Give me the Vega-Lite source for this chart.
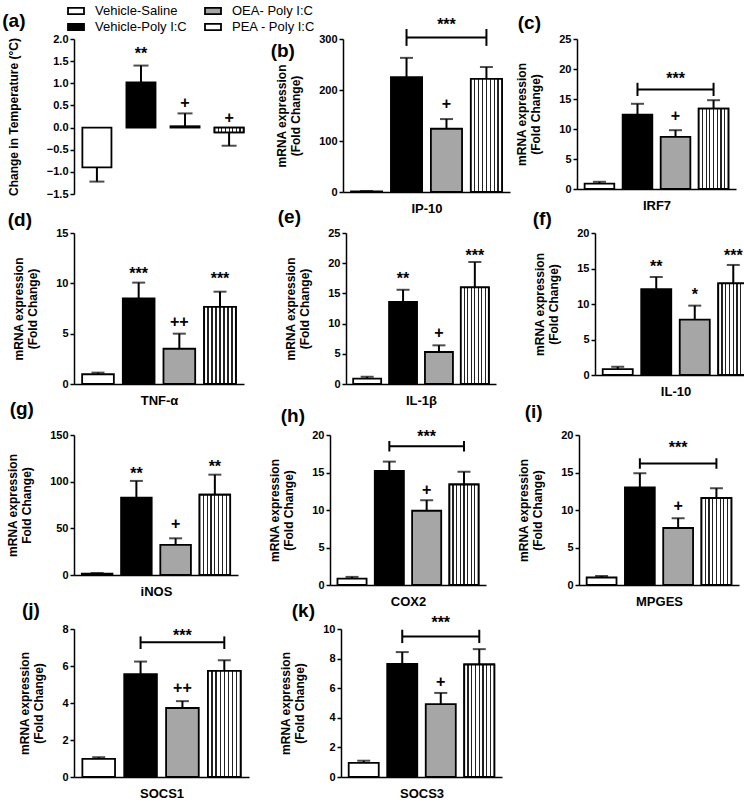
{
"$schema":"https://vega.github.io/schema/vega-lite/v6.json",
"padding":{"left":2,"top":2,"right":2,"bottom":2},
"background":"white",
"config":{
 "view":{"stroke":null},
 "font":"Liberation Sans",
 "axis":{"domainColor":"black","domainWidth":1.5,"tickColor":"black","tickWidth":1.5,"tickSize":4,"labelFont":"Liberation Sans","labelFontSize":11,"labelFontWeight":"bold","labelColor":"black","labelPadding":2,"labelOverlap":false,"titleFont":"Liberation Sans","titleFontSize":12,"titleFontWeight":"bold","titleColor":"black","titleLineHeight":14,"grid":false,"titlePadding":16},
 "axisY":{"labelOverlap":false,"tickCount":20},
 "title":{"font":"Liberation Sans","fontSize":19,"fontWeight":"bold","color":"black","anchor":"start","frame":"bounds","baseline":"middle","offset":0}
},
"spacing":-7,
"vconcat":[
{"spacing":18,"hconcat":[
{"width":178,"height":155,"title":{"text":"(a)","dy":2,"dx":-5},
 "encoding":{"x":{"field":"group","type":"nominal","sort":null,"scale":{"domain":["Vehicle-Saline","Vehicle-Poly I:C","OEA- Poly I:C","PEA - Poly I:C"],"paddingInner":0.34,"paddingOuter":0.19},"axis":null}},
 "data":{"values":[
  {"group":"Vehicle-Saline","mean":-0.9,"err":-1.22,"sig":"","sy":null},
  {"group":"Vehicle-Poly I:C","mean":1.02,"err":1.4,"sig":"**","sy":1.67},
  {"group":"OEA- Poly I:C","mean":0.03,"err":0.32,"sig":"+","sy":0.55},
  {"group":"PEA - Poly I:C","mean":-0.11,"err":-0.41,"sig":"+","sy":0.21}]},
 "layer":[
  {"mark":{"type":"rule","strokeWidth":2,"color":"black"},"encoding":{"y":{"field":"mean","type":"quantitative"},"y2":{"field":"err"}}},
  {"mark":{"type":"tick","thickness":2,"size":15,"color":"black"},"encoding":{"y":{"field":"err","type":"quantitative"}}},
  {"mark":{"type":"bar","stroke":"black","strokeWidth":1.8},"encoding":{"y":{"field":"mean","type":"quantitative","scale":{"domain":[-1.5,2],"nice":false,"zero":false},"axis":{"values":[-1.5,-1,-0.5,0,0.5,1,1.5,2],"tickCount":20,"format":".1f","labelOverlap":false,"titlePadding":26,"title":"Change in Temperature (°C)"}},
   "fill":{"field":"group","type":"nominal","scale":{"domain":["Vehicle-Saline","Vehicle-Poly I:C","OEA- Poly I:C","PEA - Poly I:C"],"range":["white","black","#a6a6a6","white"]},
    "legend":{"orient":"none","legendX":-7,"legendY":-37,"title":null,"columns":2,"columnPadding":14,"rowPadding":-2,"symbolType":"M-1,-0.38H1V0.38H-1Z","symbolSize":256,"symbolStrokeColor":"black","symbolStrokeWidth":1.8,"labelFont":"Liberation Sans","labelFontSize":13,"labelColor":"black","labelOffset":10,"labelLimit":300}}}},
  {"transform":[{"filter":"datum.group === 'PEA - Poly I:C'"}],"mark":{"type":"bar","stroke":"black","strokeWidth":1.8,"fill":{"gradient":"linear","x1":0,"y1":0,"x2":1,"y2":0,"stops":[{"offset":0,"color":"white"},{"offset":0.105,"color":"white"},{"offset":0.105,"color":"#222"},{"offset":0.145,"color":"#222"},{"offset":0.145,"color":"white"},{"offset":0.23,"color":"white"},{"offset":0.23,"color":"#222"},{"offset":0.27,"color":"#222"},{"offset":0.27,"color":"white"},{"offset":0.355,"color":"white"},{"offset":0.355,"color":"#222"},{"offset":0.395,"color":"#222"},{"offset":0.395,"color":"white"},{"offset":0.48,"color":"white"},{"offset":0.48,"color":"#222"},{"offset":0.52,"color":"#222"},{"offset":0.52,"color":"white"},{"offset":0.605,"color":"white"},{"offset":0.605,"color":"#222"},{"offset":0.645,"color":"#222"},{"offset":0.645,"color":"white"},{"offset":0.73,"color":"white"},{"offset":0.73,"color":"#222"},{"offset":0.77,"color":"#222"},{"offset":0.77,"color":"white"},{"offset":0.855,"color":"white"},{"offset":0.855,"color":"#222"},{"offset":0.895,"color":"#222"},{"offset":0.895,"color":"white"},{"offset":1,"color":"white"}]}},"encoding":{"y":{"field":"mean","type":"quantitative"}}},
  {"mark":{"type":"rule","strokeWidth":2,"color":"black"},"encoding":{"y":{"datum":0,"type":"quantitative"}}},
  {"mark":{"type":"text","fontSize":16,"fontWeight":"bold","baseline":"middle","color":"black"},"encoding":{"y":{"field":"sy","type":"quantitative"},"text":{"field":"sig"}}}
 ]},
{"spacing":5,"hconcat":[
{"width":167,"height":153,"title":{"text":"(b)","dy":48,"dx":-5},
 "encoding":{"x":{"field":"group","type":"nominal","sort":null,"scale":{"domain":["Vehicle-Saline","Vehicle-Poly I:C","OEA- Poly I:C","PEA - Poly I:C"],"paddingInner":0.22,"paddingOuter":0.2},"axis":{"title":"IP-10","labels":false,"ticks":false,"titlePadding":10,"titleFontSize":13}}},
 "layer":[
  {"data":{"values":[
   {"group":"Vehicle-Saline","mean":1,"upper":2,"sig":"","sy":null},
   {"group":"Vehicle-Poly I:C","mean":225,"upper":263,"sig":"","sy":null},
   {"group":"OEA- Poly I:C","mean":124,"upper":143,"sig":"+","sy":172},
   {"group":"PEA - Poly I:C","mean":222,"upper":245,"sig":"","sy":null}]},
   "layer":[
    {"mark":{"type":"rule","strokeWidth":2,"color":"black"},"encoding":{"y":{"field":"mean","type":"quantitative"},"y2":{"field":"upper"}}},
    {"mark":{"type":"tick","thickness":2,"size":13,"color":"black"},"encoding":{"y":{"field":"upper","type":"quantitative"}}},
    {"mark":{"type":"bar","stroke":"black","strokeWidth":1.8},"encoding":{"y":{"field":"mean","type":"quantitative","scale":{"domain":[0,300],"nice":false},"axis":{"values":[0,100,200,300],"tickCount":20,"format":"d","labelOverlap":false,"title":["mRNA expression","(Fold Change)"]}},"fill":{"field":"group","type":"nominal","scale":{"domain":["Vehicle-Saline","Vehicle-Poly I:C","OEA- Poly I:C","PEA - Poly I:C"],"range":["white","black","#a6a6a6","white"]}}}},
    {"transform":[{"filter":"datum.group === 'PEA - Poly I:C'"}],"mark":{"type":"bar","stroke":"black","strokeWidth":1.8,"fill":{"gradient":"linear","x1":0,"y1":0,"x2":1,"y2":0,"stops":[{"offset":0,"color":"white"},{"offset":0.105,"color":"white"},{"offset":0.105,"color":"#222"},{"offset":0.145,"color":"#222"},{"offset":0.145,"color":"white"},{"offset":0.23,"color":"white"},{"offset":0.23,"color":"#222"},{"offset":0.27,"color":"#222"},{"offset":0.27,"color":"white"},{"offset":0.355,"color":"white"},{"offset":0.355,"color":"#222"},{"offset":0.395,"color":"#222"},{"offset":0.395,"color":"white"},{"offset":0.48,"color":"white"},{"offset":0.48,"color":"#222"},{"offset":0.52,"color":"#222"},{"offset":0.52,"color":"white"},{"offset":0.605,"color":"white"},{"offset":0.605,"color":"#222"},{"offset":0.645,"color":"#222"},{"offset":0.645,"color":"white"},{"offset":0.73,"color":"white"},{"offset":0.73,"color":"#222"},{"offset":0.77,"color":"#222"},{"offset":0.77,"color":"white"},{"offset":0.855,"color":"white"},{"offset":0.855,"color":"#222"},{"offset":0.895,"color":"#222"},{"offset":0.895,"color":"white"},{"offset":1,"color":"white"}]}},"encoding":{"y":{"field":"mean","type":"quantitative"}}},
    {"mark":{"type":"text","fontSize":16,"fontWeight":"bold","baseline":"middle","color":"black"},"encoding":{"y":{"field":"sy","type":"quantitative"},"text":{"field":"sig"}}}
   ]},
  {"data":{"values":[{"group":"Vehicle-Poly I:C","by":303,"blo":286.5,"bhi":319.5},{"group":"PEA - Poly I:C","by":303,"blo":286.5,"bhi":319.5}]},
   "layer":[
    {"mark":{"type":"line","strokeWidth":2,"color":"black"},"encoding":{"y":{"field":"by","type":"quantitative"}}},
    {"mark":{"type":"rule","strokeWidth":2,"color":"black"},"encoding":{"y":{"field":"blo","type":"quantitative"},"y2":{"field":"bhi"}}}
   ]},
  {"data":{"values":[{"group":"OEA- Poly I:C","bt":"***","bsy":327}]},
   "mark":{"type":"text","fontSize":16,"fontWeight":"bold","baseline":"middle","color":"black"},"encoding":{"y":{"field":"bsy","type":"quantitative"},"text":{"field":"bt"}}}
 ]},
{"width":159,"height":150,"title":{"text":"(c)","dy":3.5,"dx":2},
 "encoding":{"x":{"field":"group","type":"nominal","sort":null,"scale":{"domain":["Vehicle-Saline","Vehicle-Poly I:C","OEA- Poly I:C","PEA - Poly I:C"],"paddingInner":0.22,"paddingOuter":0.2},"axis":{"title":"IRF7","labels":false,"ticks":false,"titlePadding":10,"titleFontSize":13}}},
 "layer":[
  {"data":{"values":[
   {"group":"Vehicle-Saline","mean":0.9,"upper":1.2,"sig":"","sy":null},
   {"group":"Vehicle-Poly I:C","mean":12.4,"upper":14.2,"sig":"","sy":null},
   {"group":"OEA- Poly I:C","mean":8.7,"upper":9.8,"sig":"+","sy":12.2},
   {"group":"PEA - Poly I:C","mean":13.4,"upper":14.8,"sig":"","sy":null}]},
   "layer":[
    {"mark":{"type":"rule","strokeWidth":2,"color":"black"},"encoding":{"y":{"field":"mean","type":"quantitative"},"y2":{"field":"upper"}}},
    {"mark":{"type":"tick","thickness":2,"size":13,"color":"black"},"encoding":{"y":{"field":"upper","type":"quantitative"}}},
    {"mark":{"type":"bar","stroke":"black","strokeWidth":1.8},"encoding":{"y":{"field":"mean","type":"quantitative","scale":{"domain":[0,25],"nice":false},"axis":{"values":[0,5,10,15,20,25],"tickCount":20,"format":"d","labelOverlap":false,"title":["mRNA expression","(Fold Change)"]}},"fill":{"field":"group","type":"nominal","scale":{"domain":["Vehicle-Saline","Vehicle-Poly I:C","OEA- Poly I:C","PEA - Poly I:C"],"range":["white","black","#a6a6a6","white"]}}}},
    {"transform":[{"filter":"datum.group === 'PEA - Poly I:C'"}],"mark":{"type":"bar","stroke":"black","strokeWidth":1.8,"fill":{"gradient":"linear","x1":0,"y1":0,"x2":1,"y2":0,"stops":[{"offset":0,"color":"white"},{"offset":0.105,"color":"white"},{"offset":0.105,"color":"#222"},{"offset":0.145,"color":"#222"},{"offset":0.145,"color":"white"},{"offset":0.23,"color":"white"},{"offset":0.23,"color":"#222"},{"offset":0.27,"color":"#222"},{"offset":0.27,"color":"white"},{"offset":0.355,"color":"white"},{"offset":0.355,"color":"#222"},{"offset":0.395,"color":"#222"},{"offset":0.395,"color":"white"},{"offset":0.48,"color":"white"},{"offset":0.48,"color":"#222"},{"offset":0.52,"color":"#222"},{"offset":0.52,"color":"white"},{"offset":0.605,"color":"white"},{"offset":0.605,"color":"#222"},{"offset":0.645,"color":"#222"},{"offset":0.645,"color":"white"},{"offset":0.73,"color":"white"},{"offset":0.73,"color":"#222"},{"offset":0.77,"color":"#222"},{"offset":0.77,"color":"white"},{"offset":0.855,"color":"white"},{"offset":0.855,"color":"#222"},{"offset":0.895,"color":"#222"},{"offset":0.895,"color":"white"},{"offset":1,"color":"white"}]}},"encoding":{"y":{"field":"mean","type":"quantitative"}}},
    {"mark":{"type":"text","fontSize":16,"fontWeight":"bold","baseline":"middle","color":"black"},"encoding":{"y":{"field":"sy","type":"quantitative"},"text":{"field":"sig"}}}
   ]},
  {"data":{"values":[{"group":"Vehicle-Poly I:C","by":16.6,"blo":15.5,"bhi":17.7},{"group":"PEA - Poly I:C","by":16.6,"blo":15.5,"bhi":17.7}]},
   "layer":[
    {"mark":{"type":"line","strokeWidth":2,"color":"black"},"encoding":{"y":{"field":"by","type":"quantitative"}}},
    {"mark":{"type":"rule","strokeWidth":2,"color":"black"},"encoding":{"y":{"field":"blo","type":"quantitative"},"y2":{"field":"bhi"}}}
   ]},
  {"data":{"values":[{"group":"OEA- Poly I:C","bt":"***","bsy":18.4}]},
   "mark":{"type":"text","fontSize":16,"fontWeight":"bold","baseline":"middle","color":"black"},"encoding":{"y":{"field":"bsy","type":"quantitative"},"text":{"field":"bt"}}}
 ]}
]}
]},
{"spacing":33,"hconcat":[
{"width":170,"height":151,"title":{"text":"(d)","dy":6.5,"dx":-5},
 "encoding":{"x":{"field":"group","type":"nominal","sort":null,"scale":{"domain":["Vehicle-Saline","Vehicle-Poly I:C","OEA- Poly I:C","PEA - Poly I:C"],"paddingInner":0.22,"paddingOuter":0.2},"axis":{"title":"TNF-α","labels":false,"ticks":false,"titlePadding":10,"titleFontSize":13}}},
 "data":{"values":[
   {"group":"Vehicle-Saline","mean":0.97,"upper":1.13,"sig":"","sy":null},
   {"group":"Vehicle-Poly I:C","mean":8.5,"upper":10.07,"sig":"***","sy":10.9},
   {"group":"OEA- Poly I:C","mean":3.5,"upper":5.0,"sig":"++","sy":6.17},
   {"group":"PEA - Poly I:C","mean":7.67,"upper":9.17,"sig":"***","sy":10.4}]},
 "layer":[
    {"mark":{"type":"rule","strokeWidth":2,"color":"black"},"encoding":{"y":{"field":"mean","type":"quantitative"},"y2":{"field":"upper"}}},
    {"mark":{"type":"tick","thickness":2,"size":13,"color":"black"},"encoding":{"y":{"field":"upper","type":"quantitative"}}},
    {"mark":{"type":"bar","stroke":"black","strokeWidth":1.8},"encoding":{"y":{"field":"mean","type":"quantitative","scale":{"domain":[0,15],"nice":false},"axis":{"values":[0,5,10,15],"tickCount":20,"format":"d","labelOverlap":false,"title":["mRNA expression","(Fold Change)"]}},"fill":{"field":"group","type":"nominal","scale":{"domain":["Vehicle-Saline","Vehicle-Poly I:C","OEA- Poly I:C","PEA - Poly I:C"],"range":["white","black","#a6a6a6","white"]}}}},
    {"transform":[{"filter":"datum.group === 'PEA - Poly I:C'"}],"mark":{"type":"bar","stroke":"black","strokeWidth":1.8,"fill":{"gradient":"linear","x1":0,"y1":0,"x2":1,"y2":0,"stops":[{"offset":0,"color":"white"},{"offset":0.105,"color":"white"},{"offset":0.105,"color":"#222"},{"offset":0.145,"color":"#222"},{"offset":0.145,"color":"white"},{"offset":0.23,"color":"white"},{"offset":0.23,"color":"#222"},{"offset":0.27,"color":"#222"},{"offset":0.27,"color":"white"},{"offset":0.355,"color":"white"},{"offset":0.355,"color":"#222"},{"offset":0.395,"color":"#222"},{"offset":0.395,"color":"white"},{"offset":0.48,"color":"white"},{"offset":0.48,"color":"#222"},{"offset":0.52,"color":"#222"},{"offset":0.52,"color":"white"},{"offset":0.605,"color":"white"},{"offset":0.605,"color":"#222"},{"offset":0.645,"color":"#222"},{"offset":0.645,"color":"white"},{"offset":0.73,"color":"white"},{"offset":0.73,"color":"#222"},{"offset":0.77,"color":"#222"},{"offset":0.77,"color":"white"},{"offset":0.855,"color":"white"},{"offset":0.855,"color":"#222"},{"offset":0.895,"color":"#222"},{"offset":0.895,"color":"white"},{"offset":1,"color":"white"}]}},"encoding":{"y":{"field":"mean","type":"quantitative"}}},
    {"mark":{"type":"text","fontSize":16,"fontWeight":"bold","baseline":"middle","color":"black"},"encoding":{"y":{"field":"sy","type":"quantitative"},"text":{"field":"sig"}}}
 ]},
{"spacing":36,"hconcat":[
{"width":150,"height":151,"title":{"text":"(e)","dy":4,"dx":-7},
 "encoding":{"x":{"field":"group","type":"nominal","sort":null,"scale":{"domain":["Vehicle-Saline","Vehicle-Poly I:C","OEA- Poly I:C","PEA - Poly I:C"],"paddingInner":0.22,"paddingOuter":0.2},"axis":{"title":"IL-1β","labels":false,"ticks":false,"titlePadding":10,"titleFontSize":13}}},
 "data":{"values":[
   {"group":"Vehicle-Saline","mean":0.9,"upper":1.2,"sig":"","sy":null},
   {"group":"Vehicle-Poly I:C","mean":13.6,"upper":15.6,"sig":"**","sy":17.4},
   {"group":"OEA- Poly I:C","mean":5.3,"upper":6.4,"sig":"+","sy":8.44},
   {"group":"PEA - Poly I:C","mean":16.0,"upper":20.2,"sig":"***","sy":21.2}]},
 "layer":[
    {"mark":{"type":"rule","strokeWidth":2,"color":"black"},"encoding":{"y":{"field":"mean","type":"quantitative"},"y2":{"field":"upper"}}},
    {"mark":{"type":"tick","thickness":2,"size":13,"color":"black"},"encoding":{"y":{"field":"upper","type":"quantitative"}}},
    {"mark":{"type":"bar","stroke":"black","strokeWidth":1.8},"encoding":{"y":{"field":"mean","type":"quantitative","scale":{"domain":[0,25],"nice":false},"axis":{"values":[0,5,10,15,20,25],"tickCount":20,"format":"d","labelOverlap":false,"title":["mRNA expression","(Fold Change)"]}},"fill":{"field":"group","type":"nominal","scale":{"domain":["Vehicle-Saline","Vehicle-Poly I:C","OEA- Poly I:C","PEA - Poly I:C"],"range":["white","black","#a6a6a6","white"]}}}},
    {"transform":[{"filter":"datum.group === 'PEA - Poly I:C'"}],"mark":{"type":"bar","stroke":"black","strokeWidth":1.8,"fill":{"gradient":"linear","x1":0,"y1":0,"x2":1,"y2":0,"stops":[{"offset":0,"color":"white"},{"offset":0.105,"color":"white"},{"offset":0.105,"color":"#222"},{"offset":0.145,"color":"#222"},{"offset":0.145,"color":"white"},{"offset":0.23,"color":"white"},{"offset":0.23,"color":"#222"},{"offset":0.27,"color":"#222"},{"offset":0.27,"color":"white"},{"offset":0.355,"color":"white"},{"offset":0.355,"color":"#222"},{"offset":0.395,"color":"#222"},{"offset":0.395,"color":"white"},{"offset":0.48,"color":"white"},{"offset":0.48,"color":"#222"},{"offset":0.52,"color":"#222"},{"offset":0.52,"color":"white"},{"offset":0.605,"color":"white"},{"offset":0.605,"color":"#222"},{"offset":0.645,"color":"#222"},{"offset":0.645,"color":"white"},{"offset":0.73,"color":"white"},{"offset":0.73,"color":"#222"},{"offset":0.77,"color":"#222"},{"offset":0.77,"color":"white"},{"offset":0.855,"color":"white"},{"offset":0.855,"color":"#222"},{"offset":0.895,"color":"#222"},{"offset":0.895,"color":"white"},{"offset":1,"color":"white"}]}},"encoding":{"y":{"field":"mean","type":"quantitative"}}},
    {"mark":{"type":"text","fontSize":16,"fontWeight":"bold","baseline":"middle","color":"black"},"encoding":{"y":{"field":"sy","type":"quantitative"},"text":{"field":"sig"}}}
 ]},
{"width":161,"height":142,"title":{"text":"(f)","dy":6,"dx":-1},
 "encoding":{"x":{"field":"group","type":"nominal","sort":null,"scale":{"domain":["Vehicle-Saline","Vehicle-Poly I:C","OEA- Poly I:C","PEA - Poly I:C"],"paddingInner":0.22,"paddingOuter":0.2},"axis":{"title":"IL-10","labels":false,"ticks":false,"titlePadding":10,"titleFontSize":13}}},
 "data":{"values":[
   {"group":"Vehicle-Saline","mean":0.84,"upper":1.16,"sig":"","sy":null},
   {"group":"Vehicle-Poly I:C","mean":12.1,"upper":13.8,"sig":"**","sy":15.25},
   {"group":"OEA- Poly I:C","mean":7.8,"upper":9.77,"sig":"*","sy":11.2},
   {"group":"PEA - Poly I:C","mean":12.9,"upper":15.5,"sig":"***","sy":16.8}]},
 "layer":[
    {"mark":{"type":"rule","strokeWidth":2,"color":"black"},"encoding":{"y":{"field":"mean","type":"quantitative"},"y2":{"field":"upper"}}},
    {"mark":{"type":"tick","thickness":2,"size":13,"color":"black"},"encoding":{"y":{"field":"upper","type":"quantitative"}}},
    {"mark":{"type":"bar","stroke":"black","strokeWidth":1.8},"encoding":{"y":{"field":"mean","type":"quantitative","scale":{"domain":[0,20],"nice":false},"axis":{"values":[0,5,10,15,20],"tickCount":20,"format":"d","labelOverlap":false,"title":["mRNA expression","(Fold Change)"]}},"fill":{"field":"group","type":"nominal","scale":{"domain":["Vehicle-Saline","Vehicle-Poly I:C","OEA- Poly I:C","PEA - Poly I:C"],"range":["white","black","#a6a6a6","white"]}}}},
    {"transform":[{"filter":"datum.group === 'PEA - Poly I:C'"}],"mark":{"type":"bar","stroke":"black","strokeWidth":1.8,"fill":{"gradient":"linear","x1":0,"y1":0,"x2":1,"y2":0,"stops":[{"offset":0,"color":"white"},{"offset":0.105,"color":"white"},{"offset":0.105,"color":"#222"},{"offset":0.145,"color":"#222"},{"offset":0.145,"color":"white"},{"offset":0.23,"color":"white"},{"offset":0.23,"color":"#222"},{"offset":0.27,"color":"#222"},{"offset":0.27,"color":"white"},{"offset":0.355,"color":"white"},{"offset":0.355,"color":"#222"},{"offset":0.395,"color":"#222"},{"offset":0.395,"color":"white"},{"offset":0.48,"color":"white"},{"offset":0.48,"color":"#222"},{"offset":0.52,"color":"#222"},{"offset":0.52,"color":"white"},{"offset":0.605,"color":"white"},{"offset":0.605,"color":"#222"},{"offset":0.645,"color":"#222"},{"offset":0.645,"color":"white"},{"offset":0.73,"color":"white"},{"offset":0.73,"color":"#222"},{"offset":0.77,"color":"#222"},{"offset":0.77,"color":"white"},{"offset":0.855,"color":"white"},{"offset":0.855,"color":"#222"},{"offset":0.895,"color":"#222"},{"offset":0.895,"color":"white"},{"offset":1,"color":"white"}]}},"encoding":{"y":{"field":"mean","type":"quantitative"}}},
    {"mark":{"type":"text","fontSize":16,"fontWeight":"bold","baseline":"middle","color":"black"},"encoding":{"y":{"field":"sy","type":"quantitative"},"text":{"field":"sig"}}}
 ]}
]}
]},
{"spacing":30,"hconcat":[
{"width":164,"height":140,"title":{"text":"(g)","dy":-6,"dx":3},
 "encoding":{"x":{"field":"group","type":"nominal","sort":null,"scale":{"domain":["Vehicle-Saline","Vehicle-Poly I:C","OEA- Poly I:C","PEA - Poly I:C"],"paddingInner":0.22,"paddingOuter":0.2},"axis":{"title":"iNOS","labels":false,"ticks":false,"titlePadding":10,"titleFontSize":13}}},
 "data":{"values":[
   {"group":"Vehicle-Saline","mean":1.4,"upper":2.1,"sig":"","sy":null},
   {"group":"Vehicle-Poly I:C","mean":82.9,"upper":100.8,"sig":"**","sy":108},
   {"group":"OEA- Poly I:C","mean":32.3,"upper":39.3,"sig":"+","sy":54.4},
   {"group":"PEA - Poly I:C","mean":86,"upper":107.5,"sig":"**","sy":116}]},
 "layer":[
    {"mark":{"type":"rule","strokeWidth":2,"color":"black"},"encoding":{"y":{"field":"mean","type":"quantitative"},"y2":{"field":"upper"}}},
    {"mark":{"type":"tick","thickness":2,"size":13,"color":"black"},"encoding":{"y":{"field":"upper","type":"quantitative"}}},
    {"mark":{"type":"bar","stroke":"black","strokeWidth":1.8},"encoding":{"y":{"field":"mean","type":"quantitative","scale":{"domain":[0,150],"nice":false},"axis":{"values":[0,50,100,150],"tickCount":20,"format":"d","labelOverlap":false,"title":["mRNA expression","Fold Change)"]}},"fill":{"field":"group","type":"nominal","scale":{"domain":["Vehicle-Saline","Vehicle-Poly I:C","OEA- Poly I:C","PEA - Poly I:C"],"range":["white","black","#a6a6a6","white"]}}}},
    {"transform":[{"filter":"datum.group === 'PEA - Poly I:C'"}],"mark":{"type":"bar","stroke":"black","strokeWidth":1.8,"fill":{"gradient":"linear","x1":0,"y1":0,"x2":1,"y2":0,"stops":[{"offset":0,"color":"white"},{"offset":0.105,"color":"white"},{"offset":0.105,"color":"#222"},{"offset":0.145,"color":"#222"},{"offset":0.145,"color":"white"},{"offset":0.23,"color":"white"},{"offset":0.23,"color":"#222"},{"offset":0.27,"color":"#222"},{"offset":0.27,"color":"white"},{"offset":0.355,"color":"white"},{"offset":0.355,"color":"#222"},{"offset":0.395,"color":"#222"},{"offset":0.395,"color":"white"},{"offset":0.48,"color":"white"},{"offset":0.48,"color":"#222"},{"offset":0.52,"color":"#222"},{"offset":0.52,"color":"white"},{"offset":0.605,"color":"white"},{"offset":0.605,"color":"#222"},{"offset":0.645,"color":"#222"},{"offset":0.645,"color":"white"},{"offset":0.73,"color":"white"},{"offset":0.73,"color":"#222"},{"offset":0.77,"color":"#222"},{"offset":0.77,"color":"white"},{"offset":0.855,"color":"white"},{"offset":0.855,"color":"#222"},{"offset":0.895,"color":"#222"},{"offset":0.895,"color":"white"},{"offset":1,"color":"white"}]}},"encoding":{"y":{"field":"mean","type":"quantitative"}}},
    {"mark":{"type":"text","fontSize":16,"fontWeight":"bold","baseline":"middle","color":"black"},"encoding":{"y":{"field":"sy","type":"quantitative"},"text":{"field":"sig"}}}
 ]},
{"spacing":31,"hconcat":[
{"width":156,"height":150,"title":{"text":"(h)","dy":1,"dx":12},
 "encoding":{"x":{"field":"group","type":"nominal","sort":null,"scale":{"domain":["Vehicle-Saline","Vehicle-Poly I:C","OEA- Poly I:C","PEA - Poly I:C"],"paddingInner":0.22,"paddingOuter":0.2},"axis":{"title":"COX2","labels":false,"ticks":false,"titlePadding":10,"titleFontSize":13}}},
 "layer":[
  {"data":{"values":[
   {"group":"Vehicle-Saline","mean":0.85,"upper":1.08,"sig":"","sy":null},
   {"group":"Vehicle-Poly I:C","mean":15.2,"upper":16.45,"sig":"","sy":null},
   {"group":"OEA- Poly I:C","mean":9.9,"upper":11.3,"sig":"+","sy":12.7},
   {"group":"PEA - Poly I:C","mean":13.4,"upper":15.1,"sig":"","sy":null}]},
   "layer":[
    {"mark":{"type":"rule","strokeWidth":2,"color":"black"},"encoding":{"y":{"field":"mean","type":"quantitative"},"y2":{"field":"upper"}}},
    {"mark":{"type":"tick","thickness":2,"size":13,"color":"black"},"encoding":{"y":{"field":"upper","type":"quantitative"}}},
    {"mark":{"type":"bar","stroke":"black","strokeWidth":1.8},"encoding":{"y":{"field":"mean","type":"quantitative","scale":{"domain":[0,20],"nice":false},"axis":{"values":[0,5,10,15,20],"tickCount":20,"format":"d","labelOverlap":false,"title":["mRNA expression","(Fold Change)"]}},"fill":{"field":"group","type":"nominal","scale":{"domain":["Vehicle-Saline","Vehicle-Poly I:C","OEA- Poly I:C","PEA - Poly I:C"],"range":["white","black","#a6a6a6","white"]}}}},
    {"transform":[{"filter":"datum.group === 'PEA - Poly I:C'"}],"mark":{"type":"bar","stroke":"black","strokeWidth":1.8,"fill":{"gradient":"linear","x1":0,"y1":0,"x2":1,"y2":0,"stops":[{"offset":0,"color":"white"},{"offset":0.105,"color":"white"},{"offset":0.105,"color":"#222"},{"offset":0.145,"color":"#222"},{"offset":0.145,"color":"white"},{"offset":0.23,"color":"white"},{"offset":0.23,"color":"#222"},{"offset":0.27,"color":"#222"},{"offset":0.27,"color":"white"},{"offset":0.355,"color":"white"},{"offset":0.355,"color":"#222"},{"offset":0.395,"color":"#222"},{"offset":0.395,"color":"white"},{"offset":0.48,"color":"white"},{"offset":0.48,"color":"#222"},{"offset":0.52,"color":"#222"},{"offset":0.52,"color":"white"},{"offset":0.605,"color":"white"},{"offset":0.605,"color":"#222"},{"offset":0.645,"color":"#222"},{"offset":0.645,"color":"white"},{"offset":0.73,"color":"white"},{"offset":0.73,"color":"#222"},{"offset":0.77,"color":"#222"},{"offset":0.77,"color":"white"},{"offset":0.855,"color":"white"},{"offset":0.855,"color":"#222"},{"offset":0.895,"color":"#222"},{"offset":0.895,"color":"white"},{"offset":1,"color":"white"}]}},"encoding":{"y":{"field":"mean","type":"quantitative"}}},
    {"mark":{"type":"text","fontSize":16,"fontWeight":"bold","baseline":"middle","color":"black"},"encoding":{"y":{"field":"sy","type":"quantitative"},"text":{"field":"sig"}}}
   ]},
  {"data":{"values":[{"group":"Vehicle-Poly I:C","by":18.5,"blo":17.8,"bhi":19.2},{"group":"PEA - Poly I:C","by":18.5,"blo":17.8,"bhi":19.2}]},
   "layer":[
    {"mark":{"type":"line","strokeWidth":2,"color":"black"},"encoding":{"y":{"field":"by","type":"quantitative"}}},
    {"mark":{"type":"rule","strokeWidth":2,"color":"black"},"encoding":{"y":{"field":"blo","type":"quantitative"},"y2":{"field":"bhi"}}}
   ]},
  {"data":{"values":[{"group":"OEA- Poly I:C","bt":"***","bsy":19.7}]},
   "mark":{"type":"text","fontSize":16,"fontWeight":"bold","baseline":"middle","color":"black"},"encoding":{"y":{"field":"bsy","type":"quantitative"},"text":{"field":"bt"}}}
 ]},
{"width":160,"height":150,"title":{"text":"(i)","dy":-3,"dx":7},
 "encoding":{"x":{"field":"group","type":"nominal","sort":null,"scale":{"domain":["Vehicle-Saline","Vehicle-Poly I:C","OEA- Poly I:C","PEA - Poly I:C"],"paddingInner":0.22,"paddingOuter":0.2},"axis":{"title":"MPGES","labels":false,"ticks":false,"titlePadding":10,"titleFontSize":13}}},
 "layer":[
  {"data":{"values":[
   {"group":"Vehicle-Saline","mean":1.0,"upper":1.2,"sig":"","sy":null},
   {"group":"Vehicle-Poly I:C","mean":13.0,"upper":14.9,"sig":"","sy":null},
   {"group":"OEA- Poly I:C","mean":7.6,"upper":8.9,"sig":"+","sy":10.56},
   {"group":"PEA - Poly I:C","mean":11.6,"upper":12.9,"sig":"","sy":null}]},
   "layer":[
    {"mark":{"type":"rule","strokeWidth":2,"color":"black"},"encoding":{"y":{"field":"mean","type":"quantitative"},"y2":{"field":"upper"}}},
    {"mark":{"type":"tick","thickness":2,"size":13,"color":"black"},"encoding":{"y":{"field":"upper","type":"quantitative"}}},
    {"mark":{"type":"bar","stroke":"black","strokeWidth":1.8},"encoding":{"y":{"field":"mean","type":"quantitative","scale":{"domain":[0,20],"nice":false},"axis":{"values":[0,5,10,15,20],"tickCount":20,"format":"d","labelOverlap":false,"title":["mRNA expression","(Fold Change)"]}},"fill":{"field":"group","type":"nominal","scale":{"domain":["Vehicle-Saline","Vehicle-Poly I:C","OEA- Poly I:C","PEA - Poly I:C"],"range":["white","black","#a6a6a6","white"]}}}},
    {"transform":[{"filter":"datum.group === 'PEA - Poly I:C'"}],"mark":{"type":"bar","stroke":"black","strokeWidth":1.8,"fill":{"gradient":"linear","x1":0,"y1":0,"x2":1,"y2":0,"stops":[{"offset":0,"color":"white"},{"offset":0.105,"color":"white"},{"offset":0.105,"color":"#222"},{"offset":0.145,"color":"#222"},{"offset":0.145,"color":"white"},{"offset":0.23,"color":"white"},{"offset":0.23,"color":"#222"},{"offset":0.27,"color":"#222"},{"offset":0.27,"color":"white"},{"offset":0.355,"color":"white"},{"offset":0.355,"color":"#222"},{"offset":0.395,"color":"#222"},{"offset":0.395,"color":"white"},{"offset":0.48,"color":"white"},{"offset":0.48,"color":"#222"},{"offset":0.52,"color":"#222"},{"offset":0.52,"color":"white"},{"offset":0.605,"color":"white"},{"offset":0.605,"color":"#222"},{"offset":0.645,"color":"#222"},{"offset":0.645,"color":"white"},{"offset":0.73,"color":"white"},{"offset":0.73,"color":"#222"},{"offset":0.77,"color":"#222"},{"offset":0.77,"color":"white"},{"offset":0.855,"color":"white"},{"offset":0.855,"color":"#222"},{"offset":0.895,"color":"#222"},{"offset":0.895,"color":"white"},{"offset":1,"color":"white"}]}},"encoding":{"y":{"field":"mean","type":"quantitative"}}},
    {"mark":{"type":"text","fontSize":16,"fontWeight":"bold","baseline":"middle","color":"black"},"encoding":{"y":{"field":"sy","type":"quantitative"},"text":{"field":"sig"}}}
   ]},
  {"data":{"values":[{"group":"Vehicle-Poly I:C","by":16.2,"blo":15.5,"bhi":16.9},{"group":"PEA - Poly I:C","by":16.2,"blo":15.5,"bhi":16.9}]},
   "layer":[
    {"mark":{"type":"line","strokeWidth":2,"color":"black"},"encoding":{"y":{"field":"by","type":"quantitative"}}},
    {"mark":{"type":"rule","strokeWidth":2,"color":"black"},"encoding":{"y":{"field":"blo","type":"quantitative"},"y2":{"field":"bhi"}}}
   ]},
  {"data":{"values":[{"group":"OEA- Poly I:C","bt":"***","bsy":18.25}]},
   "mark":{"type":"text","fontSize":16,"fontWeight":"bold","baseline":"middle","color":"black"},"encoding":{"y":{"field":"bsy","type":"quantitative"},"text":{"field":"bt"}}}
 ]}
]}
]},
{"spacing":30,"hconcat":[
{"width":175,"height":148,"title":{"text":"(j)","dy":1,"dx":3},
 "encoding":{"x":{"field":"group","type":"nominal","sort":null,"scale":{"domain":["Vehicle-Saline","Vehicle-Poly I:C","OEA- Poly I:C","PEA - Poly I:C"],"paddingInner":0.22,"paddingOuter":0.2},"axis":{"title":"SOCS1","labels":false,"ticks":false,"titlePadding":10,"titleFontSize":13}}},
 "layer":[
  {"data":{"values":[
   {"group":"Vehicle-Saline","mean":0.98,"upper":1.07,"sig":"","sy":null},
   {"group":"Vehicle-Poly I:C","mean":5.56,"upper":6.24,"sig":"","sy":null},
   {"group":"OEA- Poly I:C","mean":3.73,"upper":4.1,"sig":"++","sy":4.8},
   {"group":"PEA - Poly I:C","mean":5.74,"upper":6.31,"sig":"","sy":null}]},
   "layer":[
    {"mark":{"type":"rule","strokeWidth":2,"color":"black"},"encoding":{"y":{"field":"mean","type":"quantitative"},"y2":{"field":"upper"}}},
    {"mark":{"type":"tick","thickness":2,"size":13,"color":"black"},"encoding":{"y":{"field":"upper","type":"quantitative"}}},
    {"mark":{"type":"bar","stroke":"black","strokeWidth":1.8},"encoding":{"y":{"field":"mean","type":"quantitative","scale":{"domain":[0,8],"nice":false},"axis":{"values":[0,2,4,6,8],"tickCount":20,"format":"d","labelOverlap":false,"title":["mRNA expression","(Fold Change)"]}},"fill":{"field":"group","type":"nominal","scale":{"domain":["Vehicle-Saline","Vehicle-Poly I:C","OEA- Poly I:C","PEA - Poly I:C"],"range":["white","black","#a6a6a6","white"]}}}},
    {"transform":[{"filter":"datum.group === 'PEA - Poly I:C'"}],"mark":{"type":"bar","stroke":"black","strokeWidth":1.8,"fill":{"gradient":"linear","x1":0,"y1":0,"x2":1,"y2":0,"stops":[{"offset":0,"color":"white"},{"offset":0.105,"color":"white"},{"offset":0.105,"color":"#222"},{"offset":0.145,"color":"#222"},{"offset":0.145,"color":"white"},{"offset":0.23,"color":"white"},{"offset":0.23,"color":"#222"},{"offset":0.27,"color":"#222"},{"offset":0.27,"color":"white"},{"offset":0.355,"color":"white"},{"offset":0.355,"color":"#222"},{"offset":0.395,"color":"#222"},{"offset":0.395,"color":"white"},{"offset":0.48,"color":"white"},{"offset":0.48,"color":"#222"},{"offset":0.52,"color":"#222"},{"offset":0.52,"color":"white"},{"offset":0.605,"color":"white"},{"offset":0.605,"color":"#222"},{"offset":0.645,"color":"#222"},{"offset":0.645,"color":"white"},{"offset":0.73,"color":"white"},{"offset":0.73,"color":"#222"},{"offset":0.77,"color":"#222"},{"offset":0.77,"color":"white"},{"offset":0.855,"color":"white"},{"offset":0.855,"color":"#222"},{"offset":0.895,"color":"#222"},{"offset":0.895,"color":"white"},{"offset":1,"color":"white"}]}},"encoding":{"y":{"field":"mean","type":"quantitative"}}},
    {"mark":{"type":"text","fontSize":16,"fontWeight":"bold","baseline":"middle","color":"black"},"encoding":{"y":{"field":"sy","type":"quantitative"},"text":{"field":"sig"}}}
   ]},
  {"data":{"values":[{"group":"Vehicle-Poly I:C","by":7.29,"blo":6.92,"bhi":7.6},{"group":"PEA - Poly I:C","by":7.29,"blo":6.92,"bhi":7.6}]},
   "layer":[
    {"mark":{"type":"line","strokeWidth":2,"color":"black"},"encoding":{"y":{"field":"by","type":"quantitative"}}},
    {"mark":{"type":"rule","strokeWidth":2,"color":"black"},"encoding":{"y":{"field":"blo","type":"quantitative"},"y2":{"field":"bhi"}}}
   ]},
  {"data":{"values":[{"group":"OEA- Poly I:C","bt":"***","bsy":7.63}]},
   "mark":{"type":"text","fontSize":16,"fontWeight":"bold","baseline":"middle","color":"black"},"encoding":{"y":{"field":"bsy","type":"quantitative"},"text":{"field":"bt"}}}
 ]},
{"width":161,"height":148,"title":{"text":"(k)","dy":10,"dx":12},
 "encoding":{"x":{"field":"group","type":"nominal","sort":null,"scale":{"domain":["Vehicle-Saline","Vehicle-Poly I:C","OEA- Poly I:C","PEA - Poly I:C"],"paddingInner":0.22,"paddingOuter":0.2},"axis":{"title":"SOCS3","labels":false,"ticks":false,"titlePadding":10,"titleFontSize":13}}},
 "layer":[
  {"data":{"values":[
   {"group":"Vehicle-Saline","mean":0.95,"upper":1.1,"sig":"","sy":null},
   {"group":"Vehicle-Poly I:C","mean":7.65,"upper":8.44,"sig":"","sy":null},
   {"group":"OEA- Poly I:C","mean":4.93,"upper":5.68,"sig":"+","sy":6.4},
   {"group":"PEA - Poly I:C","mean":7.6,"upper":8.64,"sig":"","sy":null}]},
   "layer":[
    {"mark":{"type":"rule","strokeWidth":2,"color":"black"},"encoding":{"y":{"field":"mean","type":"quantitative"},"y2":{"field":"upper"}}},
    {"mark":{"type":"tick","thickness":2,"size":13,"color":"black"},"encoding":{"y":{"field":"upper","type":"quantitative"}}},
    {"mark":{"type":"bar","stroke":"black","strokeWidth":1.8},"encoding":{"y":{"field":"mean","type":"quantitative","scale":{"domain":[0,10],"nice":false},"axis":{"values":[0,2,4,6,8,10],"tickCount":20,"format":"d","labelOverlap":false,"title":["mRNA expression","(Fold Change)"]}},"fill":{"field":"group","type":"nominal","scale":{"domain":["Vehicle-Saline","Vehicle-Poly I:C","OEA- Poly I:C","PEA - Poly I:C"],"range":["white","black","#a6a6a6","white"]}}}},
    {"transform":[{"filter":"datum.group === 'PEA - Poly I:C'"}],"mark":{"type":"bar","stroke":"black","strokeWidth":1.8,"fill":{"gradient":"linear","x1":0,"y1":0,"x2":1,"y2":0,"stops":[{"offset":0,"color":"white"},{"offset":0.105,"color":"white"},{"offset":0.105,"color":"#222"},{"offset":0.145,"color":"#222"},{"offset":0.145,"color":"white"},{"offset":0.23,"color":"white"},{"offset":0.23,"color":"#222"},{"offset":0.27,"color":"#222"},{"offset":0.27,"color":"white"},{"offset":0.355,"color":"white"},{"offset":0.355,"color":"#222"},{"offset":0.395,"color":"#222"},{"offset":0.395,"color":"white"},{"offset":0.48,"color":"white"},{"offset":0.48,"color":"#222"},{"offset":0.52,"color":"#222"},{"offset":0.52,"color":"white"},{"offset":0.605,"color":"white"},{"offset":0.605,"color":"#222"},{"offset":0.645,"color":"#222"},{"offset":0.645,"color":"white"},{"offset":0.73,"color":"white"},{"offset":0.73,"color":"#222"},{"offset":0.77,"color":"#222"},{"offset":0.77,"color":"white"},{"offset":0.855,"color":"white"},{"offset":0.855,"color":"#222"},{"offset":0.895,"color":"#222"},{"offset":0.895,"color":"white"},{"offset":1,"color":"white"}]}},"encoding":{"y":{"field":"mean","type":"quantitative"}}},
    {"mark":{"type":"text","fontSize":16,"fontWeight":"bold","baseline":"middle","color":"black"},"encoding":{"y":{"field":"sy","type":"quantitative"},"text":{"field":"sig"}}}
   ]},
  {"data":{"values":[{"group":"Vehicle-Poly I:C","by":9.5,"blo":9.05,"bhi":9.95},{"group":"PEA - Poly I:C","by":9.5,"blo":9.05,"bhi":9.95}]},
   "layer":[
    {"mark":{"type":"line","strokeWidth":2,"color":"black"},"encoding":{"y":{"field":"by","type":"quantitative"}}},
    {"mark":{"type":"rule","strokeWidth":2,"color":"black"},"encoding":{"y":{"field":"blo","type":"quantitative"},"y2":{"field":"bhi"}}}
   ]},
  {"data":{"values":[{"group":"OEA- Poly I:C","bt":"***","bsy":10.43}]},
   "mark":{"type":"text","fontSize":16,"fontWeight":"bold","baseline":"middle","color":"black"},"encoding":{"y":{"field":"bsy","type":"quantitative"},"text":{"field":"bt"}}}
 ]}
]}
]
}
